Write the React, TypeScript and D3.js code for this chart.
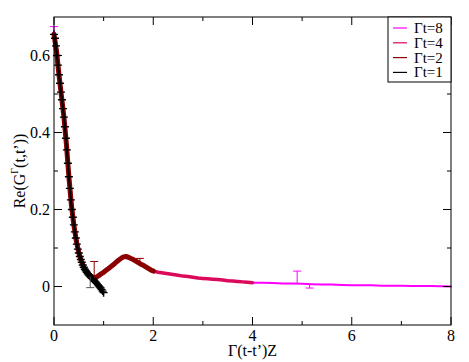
import React from 'react';
import * as d3 from 'd3';

// Re(G^Γ(t,t')) against Γ(t-t')Z, one curve per Γt
const xsGt1 = [0, 0.02, 0.04, 0.06, 0.08, 0.1, 0.12, 0.14, 0.16, 0.18, 0.2, 0.22, 0.24, 0.26, 0.28, 0.3, 0.32, 0.34, 0.36, 0.38, 0.4, 0.42, 0.44, 0.46, 0.48, 0.5, 0.52, 0.54, 0.56, 0.58, 0.6, 0.62, 0.64, 0.66, 0.68, 0.7, 0.72, 0.74, 0.76, 0.78, 0.8, 0.82, 0.84, 0.86, 0.88, 0.9, 0.92, 0.94, 0.96, 0.98, 1.0];
const ysGt1 = [0.655, 0.645, 0.625, 0.6, 0.575, 0.55, 0.528, 0.505, 0.485, 0.462, 0.44, 0.415, 0.385, 0.355, 0.32, 0.285, 0.255, 0.225, 0.2, 0.18, 0.16, 0.142, 0.126, 0.11, 0.097, 0.087, 0.078, 0.07, 0.063, 0.056, 0.05, 0.045, 0.041, 0.037, 0.033, 0.03, 0.027, 0.024, 0.022, 0.02, 0.017, 0.014, 0.011, 0.008, 0.005, 0.002, -0.001, -0.004, -0.008, -0.012, -0.016];

const xsGt2 = [0, 0.05, 0.1, 0.15, 0.2, 0.25, 0.3, 0.35, 0.4, 0.45, 0.5, 0.55, 0.6, 0.65, 0.7, 0.75, 0.8, 0.85, 0.9, 0.95, 1.0, 1.05, 1.1, 1.15, 1.2, 1.25, 1.3, 1.35, 1.4, 1.45, 1.5, 1.55, 1.6, 1.65, 1.7, 1.75, 1.8, 1.85, 1.9, 1.95, 2.0];
const ysGt2 = [0.655, 0.612, 0.55, 0.495, 0.44, 0.37, 0.285, 0.212, 0.16, 0.118, 0.087, 0.066, 0.05, 0.04, 0.032, 0.026, 0.022, 0.024, 0.028, 0.033, 0.037, 0.042, 0.047, 0.052, 0.057, 0.063, 0.068, 0.073, 0.077, 0.078, 0.076, 0.073, 0.07, 0.066, 0.062, 0.058, 0.055, 0.051, 0.047, 0.043, 0.04];

const xsGt4 = [0, 0.1, 0.2, 0.3, 0.4, 0.5, 0.6, 0.7, 0.8, 0.9, 1.0, 1.1, 1.2, 1.3, 1.4, 1.5, 1.6, 1.7, 1.8, 1.9, 2.0, 2.1, 2.2, 2.3, 2.4, 2.5, 2.6, 2.7, 2.8, 2.9, 3.0, 3.1, 3.2, 3.3, 3.4, 3.5, 3.6, 3.7, 3.8, 3.9, 4.0];
const ysGt4 = [0.655, 0.55, 0.44, 0.285, 0.16, 0.087, 0.05, 0.032, 0.023, 0.027, 0.037, 0.047, 0.057, 0.068, 0.077, 0.076, 0.069, 0.062, 0.055, 0.047, 0.04, 0.037, 0.035, 0.033, 0.031, 0.029, 0.027, 0.026, 0.024, 0.022, 0.021, 0.02, 0.019, 0.018, 0.017, 0.015, 0.014, 0.013, 0.012, 0.011, 0.01];

const xsGt8 = [0, 0.2, 0.4, 0.6, 0.8, 1.0, 1.2, 1.4, 1.6, 1.8, 2.0, 2.2, 2.4, 2.6, 2.8, 3.0, 3.2, 3.4, 3.6, 3.8, 4.0, 4.2, 4.4, 4.6, 4.8, 5.0, 5.2, 5.4, 5.6, 5.8, 6.0, 6.2, 6.4, 6.6, 6.8, 7.0, 7.2, 7.4, 7.6, 7.8, 8.0];
const ysGt8 = [0.655, 0.44, 0.16, 0.05, 0.023, 0.037, 0.057, 0.077, 0.069, 0.055, 0.04, 0.035, 0.031, 0.027, 0.024, 0.021, 0.019, 0.017, 0.014, 0.012, 0.01, 0.01, 0.009, 0.008, 0.008, 0.007, 0.006, 0.005, 0.005, 0.004, 0.003, 0.003, 0.003, 0.002, 0.002, 0.002, 0.001, 0.001, 0.001, 0.0005, 0];

// the few error bars that stick out of the bands: [x, y, low, high, series]
const errorBars: [number, number, number, number, number][] = [
  [0, 0.655, 0.655, 0.675, 0],
  [4.9, 0.008, 0.008, 0.04, 0],
  [5.15, 0.006, -0.004, 0.006, 0],
  [0.81, 0.022, 0.022, 0.065, 2],
  [1.73, 0.06, 0.06, 0.073, 2],
  [0.73, 0.026, -0.003, 0.026, 3],
];

const labels = ['Γt=8', 'Γt=4', 'Γt=2', 'Γt=1'];
const colors = ['#ff00ff', '#dc0a5a', '#8b0000', '#000000'];
const widths = [2, 3.5, 5, 2];
const xTicks = [0, 2, 4, 6, 8];
const yTicks = [0, 0.2, 0.4, 0.6];

const W = 469;
const H = 362;
const L = 54, R = 451, T = 17, B = 325;

export default function App() {
  const x = d3.scaleLinear().domain([0, 8]).range([L, R]);
  const y = d3.scaleLinear().domain([-0.1, 0.7]).range([B, T]);
  const line = d3.line<[number, number]>().x(d => x(d[0])).y(d => y(d[1]));

  const series = [
    d3.zip(xsGt8, ysGt8),
    d3.zip(xsGt4, ysGt4),
    d3.zip(xsGt2, ysGt2),
    d3.zip(xsGt1, ysGt1),
  ] as [number, number][][];

  const font = '"Liberation Serif", "DejaVu Serif", serif';
  const minorX = [1, 3, 5, 7];
  const minorY = [0.1, 0.3, 0.5];

  return (
    <svg width={W} height={H} style={{ position: 'absolute', left: 0, top: 0, fontFamily: font }}>
      <rect x={0} y={0} width={W} height={H} fill="#fff" />

      {/* curves, widest Γt underneath */}
      <g fill="none" strokeLinejoin="round" strokeLinecap="round">
        {series.map((s, i) => (
          <path key={i} d={line(s) ?? ''} stroke={colors[i]} strokeWidth={widths[i]} />
        ))}
      </g>

      {/* black "+" markers for Γt=1 */}
      <g stroke="#000" strokeWidth={1.4}>
        {series[3].map((d, i) => {
          const cx = x(d[0]), cy = y(d[1]);
          return (
            <path key={i} d={`M${cx - 4},${cy}H${cx + 4}M${cx},${cy - 4}V${cy + 4}`} />
          );
        })}
      </g>

      <g strokeWidth={1}>
        {errorBars.map(([ex, ey, lo, hi, s], i) => (
          <path key={i} stroke={s === 3 ? '#555' : colors[s]}
            d={`M${x(ex)},${y(lo)}V${y(hi)}` +
              (hi > ey ? `M${x(ex) - 4},${y(hi)}h8` : '') +
              (lo < ey ? `M${x(ex) - 4},${y(lo)}h8` : '')} />
        ))}
      </g>

      {/* frame and inward ticks on all sides */}
      <rect x={L} y={T} width={R - L} height={B - T} fill="none" stroke="#000" strokeWidth={1} />
      <g stroke="#000" strokeWidth={1}>
        {xTicks.map(v => (
          <g key={'xt' + v}>
            <line x1={x(v)} x2={x(v)} y1={B} y2={B - 8} />
            <line x1={x(v)} x2={x(v)} y1={T} y2={T + 8} />
          </g>
        ))}
        {minorX.map(v => (
          <g key={'xm' + v}>
            <line x1={x(v)} x2={x(v)} y1={B} y2={B - 4} />
            <line x1={x(v)} x2={x(v)} y1={T} y2={T + 4} />
          </g>
        ))}
        {yTicks.map(v => (
          <g key={'yt' + v}>
            <line x1={L} x2={L + 8} y1={y(v)} y2={y(v)} />
            <line x1={R} x2={R - 8} y1={y(v)} y2={y(v)} />
          </g>
        ))}
        {minorY.map(v => (
          <g key={'ym' + v}>
            <line x1={L} x2={L + 4} y1={y(v)} y2={y(v)} />
            <line x1={R} x2={R - 4} y1={y(v)} y2={y(v)} />
          </g>
        ))}
      </g>

      <g fontSize={16} fill="#000">
        {xTicks.map(v => (
          <text key={v} x={x(v)} y={341} textAnchor="middle">{v}</text>
        ))}
        {yTicks.map(v => (
          <text key={v} x={L - 4} y={y(v) + 5.5} textAnchor="end">{v === 0 ? '0' : v.toFixed(1)}</text>
        ))}
      </g>

      <text x={(L + R) / 2} y={356} textAnchor="middle" fontSize={16}>Γ(t-t’)Z</text>
      <text transform={`translate(25,${(T + B) / 2}) rotate(-90)`} textAnchor="middle" fontSize={16}>
        Re(G<tspan fontSize={10} dy={-7}>Γ</tspan><tspan dy={7}>(t,t’))</tspan>
      </text>

      {/* legend */}
      <g>
        <rect x={388} y={T} width={R - 388} height={65} fill="#fff" stroke="#000" strokeWidth={1} />
        {labels.map((lab, i) => {
          const ly = 28 + i * 14.8;
          return (
            <g key={lab}>
              <line x1={393} x2={407} y1={ly} y2={ly} stroke={colors[i]} strokeWidth={1.2} />
              <text x={414} y={ly + 5} fontSize={15}>{lab}</text>
            </g>
          );
        })}
      </g>
    </svg>
  );
}
